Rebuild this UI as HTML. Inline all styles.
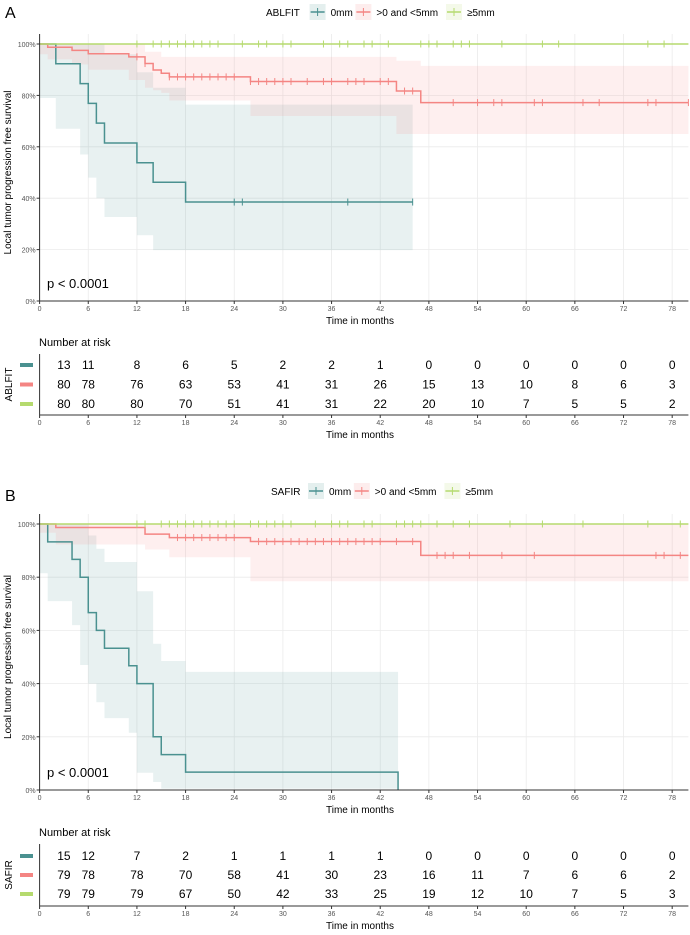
<!DOCTYPE html>
<html><head><meta charset="utf-8"><style>
body{margin:0;background:#fff}
svg text{font-family:"Liberation Sans",sans-serif}
</style></head><body>
<svg id="s" width="690" height="930" viewBox="0 0 690 930" xmlns="http://www.w3.org/2000/svg"></svg>
<script>
// ---- data ----
const xTicks=[0,6,12,18,24,30,36,42,48,54,60,66,72,78];
const yTicks=[0,20,40,60,80,100];
const riskTimes=[3,6,12,18,24,30,36,42,48,54,60,66,72,78];
// Panel A (ABLFIT)
const aTealT=[0,2,5,6,7,8,12,14,18,46];
const aTealS=[100,92.3,84.6,76.9,69.2,61.5,53.8,46.2,38.5,38.5];
const aTealLo=[100,79,67,57,48,40,32.7,25.6,19.8,19.8];
const aTealHi=[100,100,100,100,100,96,89,83,76.4,76.4];
const aTealC=[24,25,38,46];
const aRedT=[0,1,4,6,11,13,14,15,16,26,44,47,80];
const aRedS=[100,98.75,97.5,96.2,95,92.4,89.9,88.6,87.2,85.4,81.7,77.2,77.2];
const aRedLo=[100,96,94,92,90,86,83,82,81,78,72,65,65];
const aRedHi=[100,100,100,100,100,97,97,95,95,95,93.5,91.5,91.5];
const aRedC=[12,13,16,17,18,19,20,21,22,23,24,26,27,28,29,30,31,33,35,36,38,39,40,42,43,45,46,51,54,56,57,61,62,67,69,75,76,80];
const aGreenC=[12,14,15,16,17,18,19,20,21,22,25,27,28,30,31,35,37,38,40,41,43,47,48,49,51,52,53,57,62,64,75,77];
const aRiskTeal=[13,11,8,6,5,2,2,1,0,0,0,0,0,0];
const aRiskRed=[80,78,76,63,53,41,31,26,15,13,10,8,6,3];
const aRiskGreen=[80,80,80,70,51,41,31,22,20,10,7,5,5,2];
// Panel B (SAFIR)
const bTealT=[0,1,4,5,6,7,8,11,12,14,15,18,44.2];
const bTealS=[100,93.3,86.7,80,66.7,60,53.3,46.7,40,20,13.3,6.7,0];
const bTealLo=[100,81.5,71,62,47,40,33,27,21.5,6.5,3,0.5,0.5];
const bTealHi=[100,100,100,100,95.7,90.7,85.7,85.7,74.7,55,48.5,44.4,44.4];
const bTealC=[];
const bRedT=[0,2,13,16,26,47,80];
const bRedS=[100,98.7,96.2,94.9,93.4,88.2,88.2];
const bRedLo=[100,96.7,92.3,90.4,87.5,78.5,78.5];
const bRedHi=[100,100,100,100,100,100,100];
const bRedC=[17,18,19,20,21,22,23,24,27,28,29,30,31,32,33,34,35,36,37,38,39,40,41,42,44,46,49,50,51,53,57,61,76,77,79];
const bGreenC=[12,13,15,16,17,18,19,20,21,22,23,24,26,27,28,29,30,31,34,36,37,38,40,41,44,45,46,47,49,51,53,58,62,67,75,79];
const bRiskTeal=[15,12,7,2,1,1,1,1,0,0,0,0,0,0];
const bRiskRed=[79,78,78,70,58,41,30,23,16,11,7,6,6,2];
const bRiskGreen=[79,79,79,67,50,42,33,25,19,12,10,7,5,3];

const TEAL="#4a9190",RED="#f48583",GREEN="#b5da6e";
const svg=document.getElementById('s');
const NS="http://www.w3.org/2000/svg";
function mk(tag,attrs,parent){const e=document.createElementNS(NS,tag);for(const k in attrs)e.setAttribute(k,attrs[k]);(parent||svg).appendChild(e);return e;}
function txt(s,x,y,attrs,parent){const e=mk('text',Object.assign({x:x,y:y},attrs),parent);e.textContent=s;return e;}
const X0=39.6,XS=8.11,XMAX=80;
function xs(m){return X0+m*XS;}

function stepPath(T,S,ys){let d="M"+xs(T[0])+","+ys(S[0]);for(let i=1;i<T.length;i++){d+=" H"+xs(T[i])+" V"+ys(S[i]);}return d;}
function bandPath(T,L,H,ys){let d="M"+xs(T[0])+","+ys(H[0]);for(let i=1;i<T.length;i++){d+=" H"+xs(T[i])+" V"+ys(H[i]);}
 for(let i=T.length-1;i>=1;i--){d+=" V"+ys(L[i])+" H"+xs(T[i-1]);}d+=" V"+ys(L[0])+" Z";return d;}
function survAt(T,S,t){let v=S[0];for(let i=0;i<T.length;i++){if(T[i]<=t)v=S[i];}return v;}

function panel(o){
 const g=mk('g',{});
 const ys=v=>o.y0-(o.y0-o.y100)*v/100;
 txt(o.letter,5,o.letY,{'font-size':16,fill:'#000'},g);
 // legend
 const lg=mk('g',{},g);
 txt(o.strata,o.legX,o.legY+4,{'font-size':10,fill:'#000'},lg);
 const items=[["0mm",TEAL],[">0 and <5mm",RED],["≥5mm",GREEN]];
 let lx=o.legX+o.strata.length*6.6+4;
 items.forEach(([lab,c])=>{
  const e=mk('g',{},lg);
  
  
  mk('rect',{x:lx,y:o.legY-8,width:16,height:16,fill:c,opacity:0.15},e);
  mk('line',{x1:lx+1,x2:lx+15,y1:o.legY,y2:o.legY,stroke:c,'stroke-width':1.5},e);
  mk('line',{x1:lx+8,x2:lx+8,y1:o.legY-4,y2:o.legY+4,stroke:c,'stroke-width':1},e);
  txt(lab,lx+21,o.legY+4,{'font-size':10,fill:'#000'},e);
  lx+=21+lab.length*5.6+8;
 });
 // grid
 const gr=mk('g',{},g);
 xTicks.forEach(t=>mk('line',{x1:xs(t),x2:xs(t),y1:o.y100-10,y2:o.y0,stroke:'#ebebeb','stroke-width':0.8},gr));
 yTicks.forEach(v=>mk('line',{x1:X0,x2:xs(XMAX),y1:ys(v),y2:ys(v),stroke:'#ebebeb','stroke-width':0.8},gr));
 // bands
 [[o.tealT,o.tealLo,o.tealHi,TEAL],[o.redT,o.redLo,o.redHi,RED]].forEach(([T,L,H,c])=>{
  const p=mk('path',{d:bandPath(T,L,H,ys),fill:c,opacity:0.13},g);
  
 });
 // curves
 const curves=[[o.tealT,o.tealS,o.tealC,TEAL,'curve-0mm'],[o.redT,o.redS,o.redC,RED,'curve-0-5mm'],[[0,XMAX],[100,100],o.greenC,GREEN,'curve-5mm']];
 curves.forEach(([T,S,C,c,n])=>{
  const p=mk('path',{d:stepPath(T,S,ys),fill:'none',stroke:c,'stroke-width':1.5},g);
  
  C.forEach(t=>{const y=ys(survAt(T,S,t));const l=mk('line',{x1:xs(t),x2:xs(t),y1:y-3.5,y2:y+3.5,stroke:c,'stroke-width':1},g);});
 });
 // axes
 mk('line',{x1:X0,x2:X0,y1:o.y100-10,y2:o.y0,stroke:'#333','stroke-width':1},g);
 mk('line',{x1:X0,x2:xs(XMAX),y1:o.y0,y2:o.y0,stroke:'#333','stroke-width':1},g);
 yTicks.forEach(v=>{mk('line',{x1:X0-3,x2:X0,y1:ys(v),y2:ys(v),stroke:'#333'},g);txt(v+"%",X0-4,ys(v)+3,{'font-size':7,fill:'#555','text-anchor':'end'},g);});
 xTicks.forEach(t=>{mk('line',{x1:xs(t),x2:xs(t),y1:o.y0,y2:o.y0+3,stroke:'#333'},g);txt(t,xs(t),o.y0+10,{'font-size':7,fill:'#555','text-anchor':'middle'},g);});
 txt("Time in months",360,o.y0+23,{'font-size':10,fill:'#000','text-anchor':'middle'},g);
 txt("Local tumor progression free survival",11,(o.y0+o.y100)/2,{'font-size':10,fill:'#000','text-anchor':'middle',transform:`rotate(-90 11 ${(o.y0+o.y100)/2})`},g);
 txt("p < 0.0001",47,o.y0-13,{'font-size':13,fill:'#000'},g);
 // risk table
 const rt=mk('g',{},g);
 txt("Number at risk",39,o.rTop,{'font-size':11,fill:'#000'},rt);
 const rows=[[o.riskTeal,TEAL],[o.riskRed,RED],[o.riskGreen,GREEN]];
 rows.forEach(([vals,c],i)=>{
  const ry=o.rTop+o.rOff+i*o.rStep;
  mk('rect',{x:20,y:ry-6,width:13,height:4,fill:c},rt);
  vals.forEach((v,j)=>txt(v,xs(riskTimes[j]),ry,{'font-size':12,fill:'#000','text-anchor':'middle'},rt));
 });
 const ay=o.axY;
 mk('line',{x1:X0,x2:X0,y1:o.rTop+8,y2:ay,stroke:'#333'},rt);
 mk('line',{x1:X0,x2:xs(XMAX),y1:ay,y2:ay,stroke:'#333'},rt);
 xTicks.forEach(t=>{mk('line',{x1:xs(t),x2:xs(t),y1:ay,y2:ay+3,stroke:'#333'},rt);txt(t,xs(t),ay+10,{'font-size':7,fill:'#555','text-anchor':'middle'},rt);});
 txt("Time in months",360,ay+23,{'font-size':10,fill:'#000','text-anchor':'middle'},rt);
 const cy=o.rTop+o.rOff+o.rStep-4;
 txt(o.strata,12,cy,{'font-size':10,fill:'#000','text-anchor':'middle',transform:`rotate(-90 12 ${cy})`},rt);
}
panel({name:'panel-a',letter:'A',strata:'ABLFIT',letY:18,legX:266,legY:12,y100:44,y0:301,
 tealT:aTealT,tealS:aTealS,tealLo:aTealLo,tealHi:aTealHi,tealC:aTealC,
 redT:aRedT,redS:aRedS,redLo:aRedLo,redHi:aRedHi,redC:aRedC,greenC:aGreenC,
 riskTeal:aRiskTeal,riskRed:aRiskRed,riskGreen:aRiskGreen,rTop:346,rOff:23,rStep:19.5,axY:415});
panel({name:'panel-b',letter:'B',strata:'SAFIR',letY:501,legX:271,legY:491,y100:524,y0:790,
 tealT:bTealT,tealS:bTealS,tealLo:bTealLo,tealHi:bTealHi,tealC:bTealC,
 redT:bRedT,redS:bRedS,redLo:bRedLo,redHi:bRedHi,redC:bRedC,greenC:bGreenC,
 riskTeal:bRiskTeal,riskRed:bRiskRed,riskGreen:bRiskGreen,rTop:836,rOff:24,rStep:19,axY:906});
</script>
</body></html>
